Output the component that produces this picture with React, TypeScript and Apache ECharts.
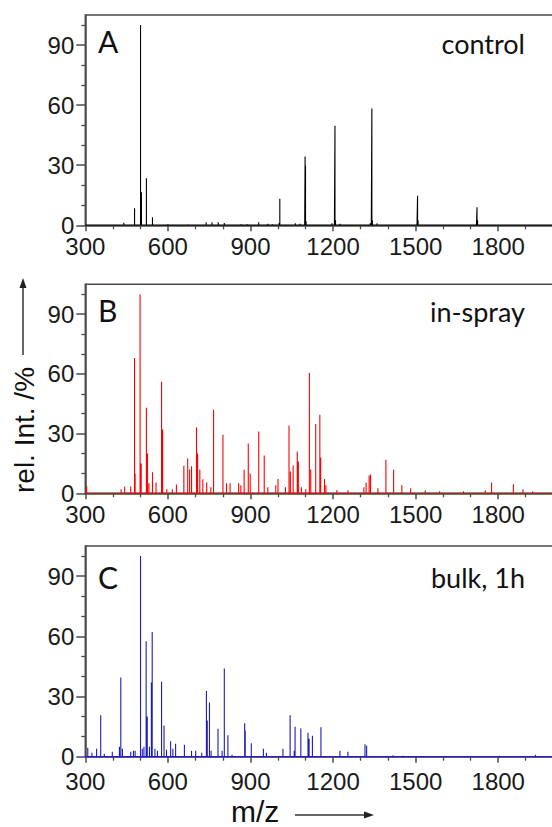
import React, { useEffect, useRef } from "react";
import * as echarts from "echarts";

// ---- data (m/z, relative intensity %) ----
const controlPeaks: [number, number][] = [
  [440, 1.3], [479, 8.5], [500.6, 100], [504, 16.5], [522, 23.5], [544, 4], [600, 0.5], [672, 0.4],
  [739, 1.5], [760, 1.5], [783, 1.5], [805, 1.2], [866, 0.5], [888, 0.5], [930, 1.5], [963, 0.8],
  [980, 0.5], [1004, 1.2], [1006.6, 13.2], [1063, 1], [1080, 0.8], [1097, 1.5], [1098.5, 34.3],
  [1100, 29.7], [1102, 2], [1196, 1], [1205, 1.5], [1207, 49.7], [1209, 2.5], [1225, 0.8],
  [1335, 1], [1339, 1.5], [1341, 58.3], [1343, 2.5], [1360, 1], [1505, 1], [1507, 14.7],
  [1509, 2.5], [1721, 1], [1723, 9], [1725, 2.5],
];

const inSprayPeaks: [number, number][] = [
  [305, 3.7], [430, 2], [443, 3.4], [465, 3.4], [479, 68], [481, 10], [499, 100], [503, 15],
  [522, 43], [526, 20], [531, 5], [544, 10.6], [557, 5.4], [577, 56], [581, 32], [596, 2],
  [616, 2], [631, 4.4], [658, 13.8], [672, 17.5], [679, 12], [686, 13.6], [704, 33], [708, 20],
  [716, 12], [727, 7], [741, 5.5], [756, 3], [766, 42], [800, 29.4], [813, 5], [826, 5],
  [857, 5], [865, 4], [877, 11.8], [892, 25], [899, 10], [930, 31], [950, 19], [963, 3],
  [992, 4], [1000, 7.2], [1027, 3], [1040, 34], [1045, 11], [1055, 14], [1070, 21], [1074, 16],
  [1085, 3], [1101, 2], [1114, 60.4], [1119, 12], [1137, 34.8], [1152, 39.5], [1155, 18],
  [1169, 7.2], [1174, 4], [1214, 1.7], [1254, 1.5], [1312, 3], [1320, 5.4], [1331, 9],
  [1336, 9.4], [1363, 2.5], [1392, 16.8], [1420, 11.8], [1450, 4.2], [1482, 2.5], [1535, 1.5],
  [1587, 1], [1674, 1], [1753, 1.5], [1776, 5.4], [1855, 4.5], [1890, 2], [1925, 1],
];

const bulkPeaks: [number, number][] = [
  [309, 4.5], [324, 2], [341, 4], [356, 20.7], [369, 1.5], [398, 2.5], [424, 5], [429, 39.5],
  [435, 4], [465, 2.5], [475, 3], [481, 3], [500.6, 100], [507, 4], [513, 5], [521, 57.5],
  [525, 20], [533, 5], [540, 37], [543, 62.2], [553, 4], [562, 3], [577, 37.3], [586, 15.6],
  [595, 3.5], [610, 7.7], [618, 4], [628, 6.5], [660, 5.9], [686, 3], [701, 3], [723, 2],
  [740, 32.8], [743, 18], [751, 27], [757, 3], [782, 13.9], [797, 3], [805, 44], [818, 10.7],
  [833, 1], [879, 16.7], [881, 13], [903, 6.7], [947, 4], [958, 2], [1018, 4], [1044, 20.6],
  [1059, 3], [1062, 14.9], [1083, 14], [1109, 11.9], [1113, 9], [1125, 10.4], [1156, 14.7],
  [1225, 3], [1254, 2.5], [1316, 6.2], [1322, 5.5], [1418, 0.7], [1455, 0.5], [1584, 0.3],
  [1804, 0.5], [1935, 1],
];

const panelLetters = ["A", "B", "C"];
const panelNames = ["control", "in-spray", "bulk, 1h"];
const panelColors = ["#000000", "#ff0000", "#1c1cb4"];
const xLabelValues = [300, 600, 900, 1200, 1500, 1800];
const yMajorTicks = [0, 30, 60, 90];
const yMinorTicks = [10, 20, 40, 50, 70, 80, 100];
const X_MIN = 300;
const X_MAX = 2100;
const Y_MAX = 105;

const spikes = (peaks: [number, number][]) => {
  const d: number[][] = [[X_MIN, 0]];
  for (const [x, h] of peaks) d.push([x, 0], [x, h], [x, 0]);
  d.push([X_MAX, 0]);
  return d;
};

const AXIS_COLOR = "#4a4a4a";
const TICK_FONT = "'Liberation Sans', Arial, sans-serif";
const TEXT_FONT = "Lato, 'Open Sans', sans-serif";

export default function App() {
  const ref = useRef<HTMLDivElement>(null);
  useEffect(() => {
    if (!ref.current) return;
    const chart = echarts.init(ref.current, undefined, { renderer: "svg" });
    const gridTops = [15, 284.3, 546];
    const gridHeights = [210.3, 209, 210.7];
    const labelMargins = [9, 9, 13];
    const allPeaks = [controlPeaks, inSprayPeaks, bulkPeaks];

    const grids = gridTops.map((t, i) => ({
      left: 85.3,
      top: t,
      width: 495.5,
      height: gridHeights[i],
      containLabel: false,
      outerBoundsMode: "none",
      show: true,
      borderColor: AXIS_COLOR,
      borderWidth: 1.5,
      backgroundColor: "transparent",
    }));

    const xAxes = gridTops.map((_, i) => ({
      type: "value",
      gridIndex: i,
      min: X_MIN,
      max: X_MAX,
      interval: 300,
      axisLine: { show: true, lineStyle: { color: AXIS_COLOR, width: 1.5 } },
      axisTick: { show: true, length: 6, lineStyle: { color: AXIS_COLOR, width: 1.5 } },
      minorTick: { show: true, splitNumber: 3, length: 4, lineStyle: { color: AXIS_COLOR, width: 1.3 } },
      splitLine: { show: false },
      minorSplitLine: { show: false },
      axisLabel: {
        show: true,
        margin: labelMargins[i],
        fontSize: 24,
        fontFamily: TICK_FONT,
        color: "#1a1a1a",
        hideOverlap: false,
        customValues: xLabelValues,
        formatter: (v: number) => (xLabelValues.includes(v) ? String(v) : ""),
      },
    }));

    const yAxes: any[] = [];
    gridTops.forEach((_, i) => {
      yAxes.push({
        type: "value",
        gridIndex: i,
        position: "left",
        min: 0,
        max: Y_MAX,
        axisLine: { show: true, lineStyle: { color: AXIS_COLOR, width: 1.5 } },
        axisTick: { show: true, length: 9, customValues: yMajorTicks, lineStyle: { color: AXIS_COLOR, width: 1.5 } },
        splitLine: { show: false },
        axisLabel: {
          show: true,
          margin: 11,
          fontSize: 24,
          fontFamily: TICK_FONT,
          color: "#1a1a1a",
          customValues: yMajorTicks,
          formatter: (v: number) => (v % 30 === 0 ? String(v) : ""),
        },
      });
      yAxes.push({
        type: "value",
        gridIndex: i,
        position: "left",
        min: 0,
        max: Y_MAX,
        axisLine: { show: false },
        axisTick: { show: true, length: 4, customValues: yMinorTicks, lineStyle: { color: AXIS_COLOR, width: 1.3 } },
        splitLine: { show: false },
        axisLabel: { show: false },
      });
    });

    const series = allPeaks.map((p, i) => ({
      type: "line",
      xAxisIndex: i,
      yAxisIndex: i * 2,
      data: spikes(p),
      symbol: "none",
      silent: true,
      lineStyle: { color: panelColors[i], width: 1.1 },
      z: 1,
    }));

    const letterY = [41, 310, 577];
    const nameY = [43.3, 311.7, 577];
    const graphic: any[] = [];
    panelLetters.forEach((l, i) => {
      graphic.push({
        type: "text",
        x: 98,
        y: letterY[i],
        style: { text: l, font: `30px ${TEXT_FONT}`, fill: "#111", textAlign: "left", textVerticalAlign: "middle" },
      });
      graphic.push({
        type: "text",
        x: 525,
        y: nameY[i],
        style: { text: panelNames[i], font: `27px ${TEXT_FONT}`, fill: "#111", textAlign: "right", textVerticalAlign: "middle" },
      });
    });
    // y axis title and arrow
    graphic.push({
      type: "text",
      x: 24,
      y: 430,
      rotation: Math.PI / 2,
      style: { text: "rel. Int. /%", font: `28px ${TICK_FONT}`, fill: "#111", textAlign: "center", textVerticalAlign: "middle" },
    });
    graphic.push({ type: "line", shape: { x1: 23, y1: 355, x2: 23, y2: 286 }, style: { stroke: "#333", lineWidth: 1.5 } });
    graphic.push({ type: "polygon", shape: { points: [[23, 278], [19.5, 288], [26.5, 288]] }, style: { fill: "#222" } });
    // x axis title and arrow
    graphic.push({
      type: "text",
      x: 231,
      y: 811,
      style: { text: "m/z", font: `30px ${TICK_FONT}`, fill: "#111", textAlign: "left", textVerticalAlign: "middle" },
    });
    graphic.push({ type: "line", shape: { x1: 295, y1: 815, x2: 366, y2: 815 }, style: { stroke: "#333", lineWidth: 1.5 } });
    graphic.push({ type: "polygon", shape: { points: [[374, 815], [364, 811.5], [364, 818.5]] }, style: { fill: "#222" } });

    chart.setOption({
      animation: false,
      backgroundColor: "#ffffff",
      grid: grids,
      xAxis: xAxes,
      yAxis: yAxes,
      series,
      graphic,
    });
    return () => chart.dispose();
  }, []);
  return (
    <div
      ref={ref}
      style={{ position: "absolute", left: 0, top: 0, width: 552, height: 827 }}
    />
  );
}
